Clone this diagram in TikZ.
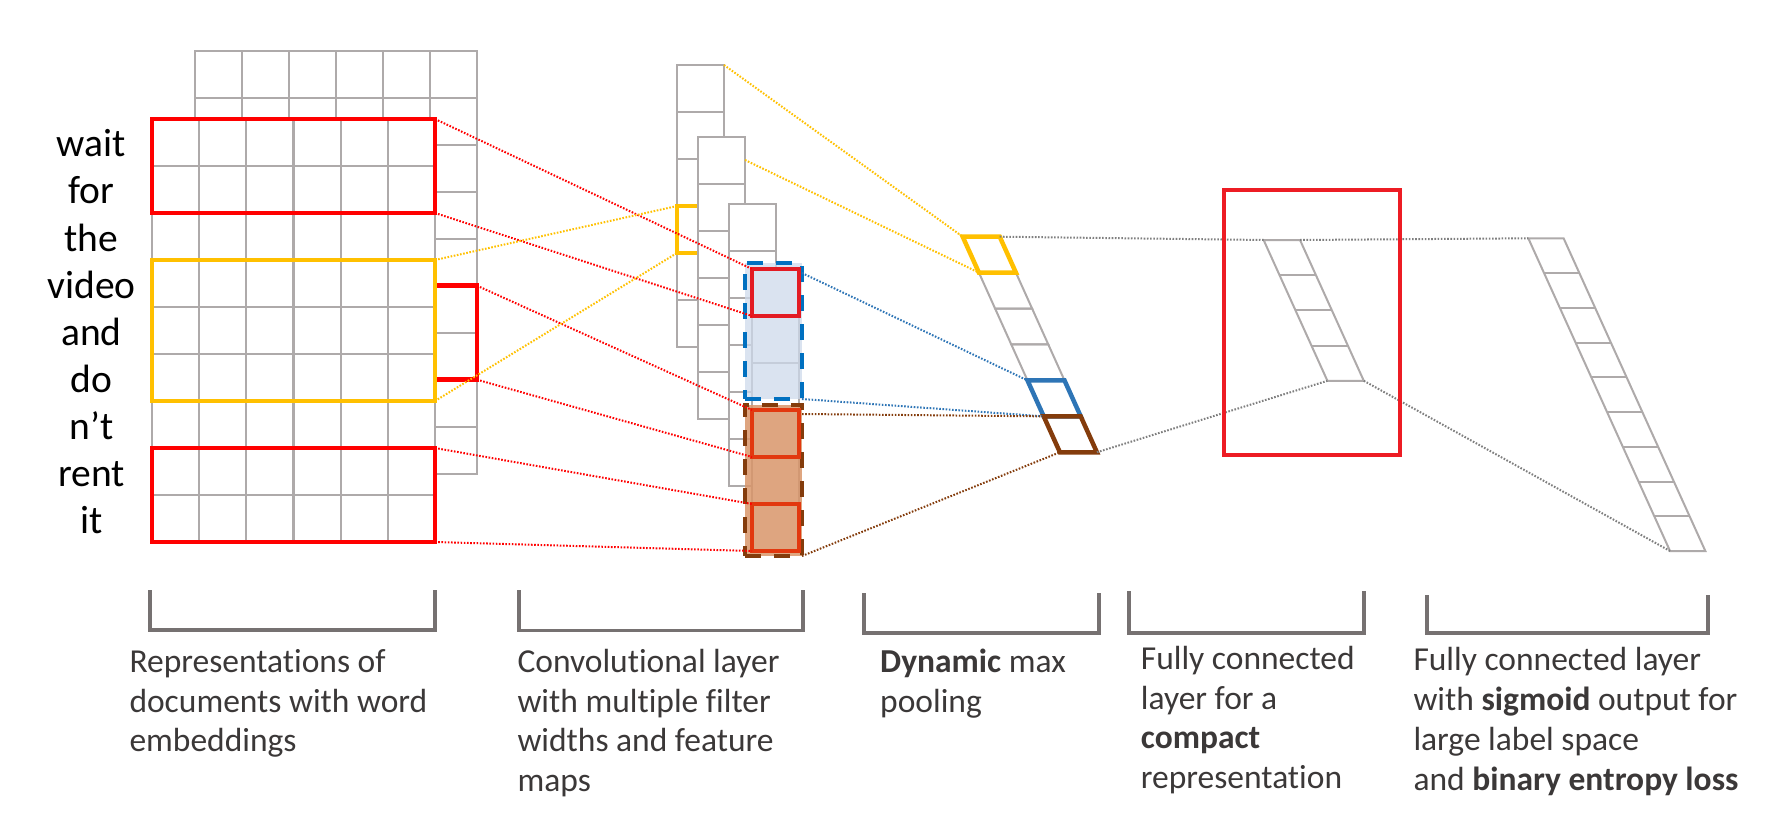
\documentclass[tikz,border=0pt]{standalone}
\usepackage{fontspec}
\setmainfont{Carlito}[Ligatures={TeX,NoCommon}]
\definecolor{cellgray}{HTML}{AEAAAA}
\definecolor{brackgray}{HTML}{767171}
\definecolor{captiongray}{HTML}{3B3838}
\definecolor{winred}{HTML}{FF0000}
\definecolor{winyellow}{HTML}{FFC000}
\definecolor{mapblue}{HTML}{0070C0}
\definecolor{mapbrown}{HTML}{843C0C}
\definecolor{poolblue}{HTML}{2E75B6}
\definecolor{bluefill}{HTML}{CEDAEB}
\definecolor{orangefill}{HTML}{D9966A}
\definecolor{maxred}{HTML}{E31B23}
\definecolor{maxorange}{HTML}{E2380F}
\definecolor{fcred}{HTML}{ED1C24}
\definecolor{dotgray}{HTML}{7F7F7F}
\begin{document}
\begin{tikzpicture}[x=1pt,y=-1pt,
    cell/.style={draw=cellgray,line width=2.3pt,fill=white},
    slant/.style={draw=cellgray,line width=2pt},
    hibox/.style={rectangle,draw,line width=4.5pt,inner sep=0pt,outer sep=0pt,anchor=north west},
    mapbox/.style={hibox,dash pattern=on 16pt off 13pt},
    link/.style={line width=2pt,dash pattern=on 1.6pt off 1.6pt},
    brack/.style={draw=brackgray,line width=3.5pt},
    word/.style={font=\fontsize{39.5}{47}\selectfont,anchor=base},
    caption/.style={font=\fontsize{33.5}{39.8}\selectfont,text=captiongray,align=left,anchor=base west,inner sep=0pt}]
\useasboundingbox (0,0) rectangle (1775,824);

\foreach \i in {0,...,5}
  \foreach \j in {0,...,8}
    \draw[cell] (195+47*\i,50.7+47*\j) rectangle ++(47,47);
\node[hibox,draw=winred,minimum width=282,minimum height=94] (bwin) at (195,285.7) {};
\foreach \i in {0,...,5}
  \foreach \j in {0,...,8}
    \draw[cell] (152+47.17*\i,119+47*\j) rectangle ++(47.17,47);
\node[hibox,draw=winred,minimum width=283,minimum height=94] (win1) at (152,119) {};
\node[hibox,draw=winyellow,minimum width=283,minimum height=141] (win2) at (152,260) {};
\node[hibox,draw=winred,minimum width=283,minimum height=94] (win3) at (152,448) {};
\foreach \w [count=\k from 0] in {wait,for,the,video,and,do,n’t,rent,it}
  \node[word] (w\k) at (91.5,157+47*\k) {\w};

\foreach \j in {0,...,5}
  \draw[cell] (677,65+47*\j) rectangle ++(47,47);
\node[hibox,draw=winyellow,minimum width=47,minimum height=47] (fmy) at (677,206) {};
\foreach \fx/\fy in {698/137,729/204,752/269}
  \foreach \j in {0,...,5}
    \draw[cell] (\fx,\fy+47*\j) rectangle ++(47,47);
\node[mapbox,draw=mapblue,fill=bluefill,fill opacity=0.75,minimum width=57,minimum height=136] (mapb) at (745,263) {};
\node[mapbox,draw=mapbrown,fill=orangefill,fill opacity=0.85,minimum width=57,minimum height=151] (mapo) at (745,405) {};
\node[hibox,draw=maxred,line width=4pt,minimum width=47,minimum height=47] (mx1) at (752,269) {};
\node[hibox,draw=maxorange,line width=4pt,minimum width=47,minimum height=47] (mx2) at (752,410) {};
\node[hibox,draw=maxorange,line width=4pt,minimum width=47,minimum height=47] (mx3) at (752,504) {};

\foreach \k in {0,...,6} {
  \coordinate (pl\k) at (962.7+16.2*\k,236.7+35.93*\k);
  \coordinate (pr\k) at (999.7+16.2*\k,236.7+35.93*\k);
}
\foreach \k [count=\n from 2] in {1,2,3}
  \draw[slant] (pl\k) -- (pr\k) -- (pr\n) -- (pl\n) -- cycle;
\draw[slant,draw=winyellow,line width=4.5pt] (pl0) -- (pr0) -- (pr1) -- (pl1) -- cycle;
\draw[slant,draw=poolblue,line width=4.5pt] (pl4) -- (pr4) -- (pr5) -- (pl5) -- cycle;
\draw[slant,draw=mapbrown,line width=4.5pt] (pl5) -- (pr5) -- (pr6) -- (pl6) -- cycle;

\foreach \k in {0,...,4} {
  \coordinate (fa\k) at (1263.6+15.95*\k,240+35.2*\k);
  \coordinate (fb\k) at (1300+15.95*\k,240+35.2*\k);
}
\draw[slant] (fa0) -- (fb0) -- (fb4) -- (fa4) -- cycle;
\foreach \k in {1,2,3}
  \draw[slant] (fa\k) -- (fb\k);
\foreach \k in {0,...,9} {
  \coordinate (ga\k) at (1528.3+15.75*\k,238.3+34.75*\k);
  \coordinate (gb\k) at (1563.6+15.75*\k,238.3+34.75*\k);
}
\draw[slant] (ga0) -- (gb0) -- (gb9) -- (ga9) -- cycle;
\foreach \k in {1,...,8}
  \draw[slant] (ga\k) -- (gb\k);

\draw[link,winred] (win1.north east) -- (mx1.north west);
\draw[link,winred] (win1.south east) -- (mx1.south west);
\draw[link,winred] (bwin.north east) -- (mx2.north west);
\draw[link,winred] (bwin.south east) -- (mx2.south west);
\draw[link,winred] (win3.north east) -- (mx3.north west);
\draw[link,winred] (win3.south east) -- (mx3.south west);
\draw[link,winyellow] (win2.north east) -- (fmy.north west);
\draw[link,winyellow] (win2.south east) -- (fmy.south west);
\coordinate (fm1top) at (724,65);
\coordinate (fm2side) at (745,160);
\draw[link,winyellow] (fm1top) -- (pl0);
\draw[link,winyellow] (fm2side) -- (pl1);
\coordinate (mapbside) at (802,273);
\coordinate (maposide) at (802,414);
\draw[link,poolblue] (mapbside) -- (pl4);
\draw[link,poolblue] (mapb.south east) -- (pl5);
\draw[link,mapbrown] (maposide) -- (pl5);
\draw[link,mapbrown] (mapo.south east) -- (pl6);
\draw[link,dotgray] (pr0) -- (fa0);
\draw[link,dotgray] (fb0) -- (ga0);
\draw[link,dotgray] (pr6) -- (fa4);
\draw[link,dotgray] (fb4) -- (ga9);
\node[hibox,draw=fcred,line width=4pt,minimum width=176.5,minimum height=265] (fcbox) at (1223.5,190) {};

\foreach \a/\b/\t/\u in {150/435/590/630,519/803/590/630.5,864/1099/593/633,1129/1364/591/633,1427/1708/595/633}
  \draw[brack] (\a,\t) |- (\b,\u) -- (\b,\t);
\node[caption] (cap1) at (129.3,751.9) {Representations of\\documents with word\\embeddings};
\node[caption] (cap2) at (517.3,791.7) {Convolutional layer\\with multiple filter\\widths and feature\\maps};
\node[caption] (cap3) at (880,712.5) {\textbf{Dynamic} max\\pooling};
\node[caption] (cap4) at (1140.7,788.7) {Fully connected\\layer for a\\\textbf{compact}\\representation};
\node[caption] (cap5) at (1413.3,790.1) {Fully connected layer\\with \textbf{sigmoid} output for\\large label space\\and \textbf{binary entropy loss}};
\end{tikzpicture}
\end{document}
